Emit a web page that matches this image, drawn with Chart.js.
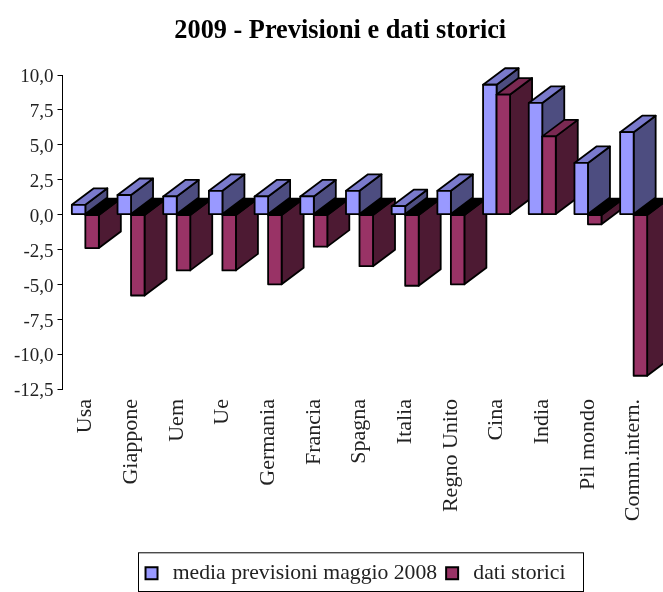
<!DOCTYPE html>
<html>
<head>
<meta charset="utf-8">
<script src="https://cdn.jsdelivr.net/npm/chart.js@4"></script>
<style>
  html, body { margin: 0; padding: 0; background: #fff; overflow: hidden; }
  canvas { display: block; }
</style>
</head>
<body>
<canvas id="chart" width="663" height="592"></canvas>
<script>
const categories = ['Usa', 'Giappone', 'Uem', 'Ue', 'Germania', 'Francia', 'Spagna', 'Italia', 'Regno Unito', 'Cina', 'India', 'Pil mondo', 'Comm.intern.'];
const previsioni = [0.7, 1.4, 1.3, 1.7, 1.3, 1.3, 1.7, 0.6, 1.7, 9.3, 8.0, 3.7, 5.9];
const storici = [-2.4, -5.8, -4.0, -4.0, -5.0, -2.3, -3.7, -5.1, -5.0, 8.6, 5.6, -0.7, -11.55];

const FONT = '"Liberation Serif", serif';
const TEXT = '#222';
const DEPTH_X = 22;
const DEPTH_Y = 16.5;
const faces = [
  { front: '#9999FF', side: '#4D4D80', top: '#7A7ACC' },
  { front: '#993366', side: '#4D1A33', top: '#7A2952' }
];

function poly(ctx, pts, fill) {
  ctx.beginPath();
  pts.forEach((p, i) => i ? ctx.lineTo(p[0], p[1]) : ctx.moveTo(p[0], p[1]));
  ctx.closePath();
  ctx.fillStyle = fill;
  ctx.fill();
  ctx.stroke();
}

// bars drawn left to right so that nearer faces cover the ones behind
const bars3d = {
  id: 'bars3d',
  beforeDatasetsDraw(chart) {
    const ctx = chart.ctx;
    ctx.save();
    ctx.lineWidth = 1.8;
    ctx.strokeStyle = '#000';
    ctx.lineJoin = 'round';
    categories.forEach((c, i) => {
      chart.data.datasets.forEach((ds, d) => {
        const bar = chart.getDatasetMeta(d).data[i];
        const w = bar.width / 2;
        const x1 = bar.x - w, x2 = bar.x + w;
        const hi = Math.min(bar.y, bar.base), lo = Math.max(bar.y, bar.base);
        poly(ctx, [[x2, hi], [x2 + DEPTH_X, hi - DEPTH_Y], [x2 + DEPTH_X, lo - DEPTH_Y], [x2, lo]], faces[d].side);
        poly(ctx, [[x1, hi], [x1 + DEPTH_X, hi - DEPTH_Y], [x2 + DEPTH_X, hi - DEPTH_Y], [x2, hi]], ds.data[i] < 0 ? '#000' : faces[d].top);
        poly(ctx, [[x1, hi], [x2, hi], [x2, lo], [x1, lo]], faces[d].front);
      });
    });
    ctx.restore();
    return false;
  }
};

const legendFrame = {
  id: 'legendFrame',
  afterLayout(chart) {
    // title is centred a little right of the canvas, legend text sits low in its frame
    chart.titleBlock.left += 24;
    chart.legend.top += 2;
    chart.legend.left -= 4;
    chart.legend.right -= 4;
  },
  afterDraw(chart) {
    const boxes = chart.legend.legendHitBoxes;
    const last = boxes[boxes.length - 1];
    const ctx = chart.ctx;
    ctx.save();
    ctx.strokeStyle = '#000';
    ctx.lineWidth = 1;
    const left = boxes[0].left - 8;
    const right = last.left + last.width + 17;
    ctx.strokeRect(Math.round(left) + 0.5, chart.legend.top - 0.5, Math.round(right - left), chart.legend.height - 2);
    ctx.restore();
  }
};

new Chart(document.getElementById('chart'), {
  type: 'bar',
  data: {
    labels: categories,
    datasets: [
      { label: '\u2009media previsioni maggio 2008', data: previsioni, backgroundColor: faces[0].front, borderColor: '#000', borderWidth: 2 },
      { label: '\u2009dati storici', data: storici, backgroundColor: faces[1].front, borderColor: '#000', borderWidth: 2 }
    ]
  },
  plugins: [bars3d, legendFrame],
  options: {
    responsive: false,
    animation: false,
    layout: { padding: { left: 0, right: 6.5, top: 0, bottom: 0 } },
    datasets: { bar: { categoryPercentage: 0.591, barPercentage: 1, borderSkipped: false } },
    plugins: {
      tooltip: { enabled: false },
      title: {
        display: true,
        text: '2009 - Previsioni e dati storici',
        color: '#000',
        font: { family: FONT, size: 26.3, weight: 'bold' },
        padding: { top: 15, bottom: 28.44 }
      },
      legend: {
        position: 'bottom',
        fullSize: false,
        labels: {
          color: TEXT,
          font: { family: FONT, size: 21.7 },
          boxWidth: 12,
          boxHeight: 12,
          padding: 9
        }
      }
    },
    scales: {
      x: {
        grid: { display: false },
        border: { display: false },
        ticks: { color: TEXT, font: { family: FONT, size: 22 }, minRotation: 90, maxRotation: 90, autoSkip: false, padding: 2 },
        afterFit(scale) { scale.height = 162.3; }
      },
      y: {
        min: -12.5,
        max: 10,
        grid: { drawOnChartArea: false, color: '#000', tickLength: 5 },
        border: { color: '#000', width: 1 },
        ticks: {
          color: TEXT,
          font: { family: FONT, size: 19, lineHeight: 0.25 },
          stepSize: 2.5,
          padding: 4,
          // empty first line pushes the label a little below its tick, as in the original
          callback: v => ['', v.toFixed(1).replace('.', ',')]
        },
        afterFit(scale) { scale.width = 62.5; }
      }
    }
  }
});
</script>
</body>
</html>
